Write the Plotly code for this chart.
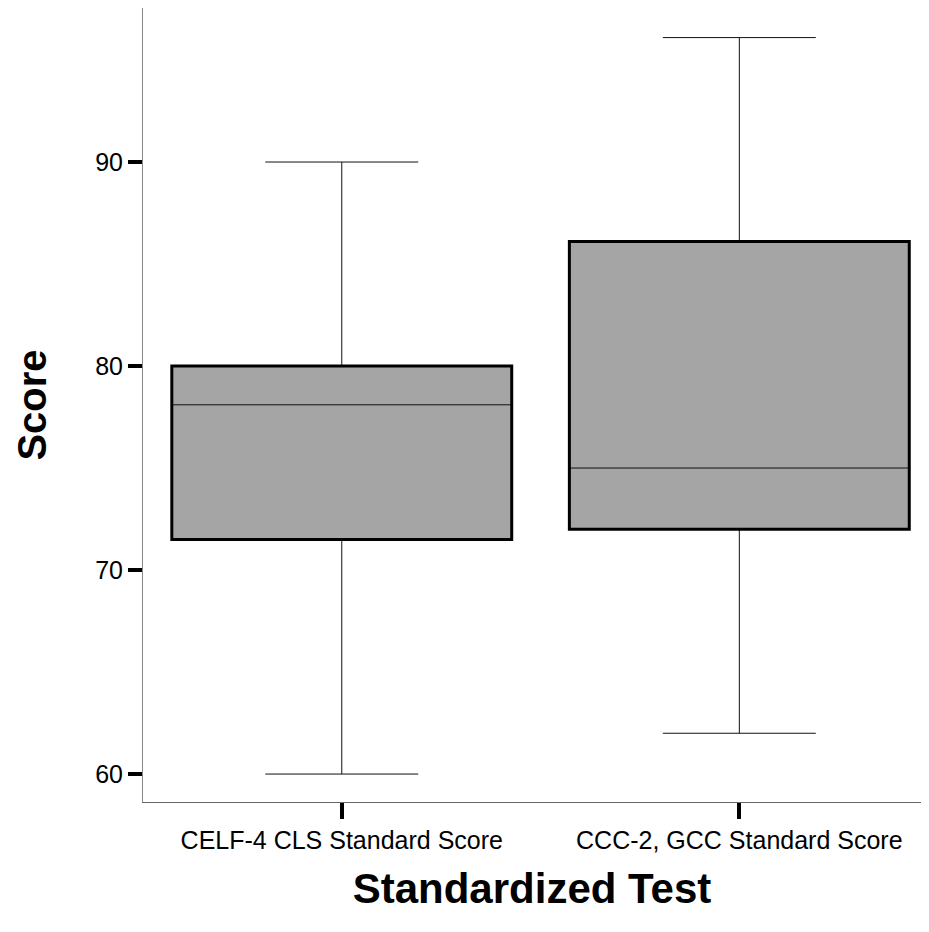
import plotly.graph_objects as go

categories = ["CELF-4 CLS Standard Score", "CCC-2, GCC Standard Score"]
lower_whisker = [60.0, 62.0]
q1_values = [71.5, 72.0]
median_values = [78.1, 75.0]
q3_values = [80.0, 86.1]
upper_whisker = [90.0, 96.1]
y_ticks = [60, 70, 80, 90]

BOX_WIDTH = 0.855
FILL = "#a5a5a5"

fig = go.Figure()
fig.add_trace(go.Box(
    x=categories,
    q1=q1_values,
    median=median_values,
    q3=q3_values,
    lowerfence=lower_whisker,
    upperfence=upper_whisker,
    width=BOX_WIDTH,
    whiskerwidth=0.45,
    fillcolor=FILL,
    line=dict(color="#111111", width=1),
    boxpoints=False,
    hoverinfo="skip",
    showlegend=False,
))

# thick outline of each box (derived from the data arrays)
for i in range(len(categories)):
    fig.add_shape(
        type="rect", xref="x", yref="y",
        x0=i - BOX_WIDTH / 2, x1=i + BOX_WIDTH / 2,
        y0=q1_values[i], y1=q3_values[i],
        line=dict(color="black", width=3), fillcolor="rgba(0,0,0,0)",
    )

# the page body has an 8px default margin; size the figure to fit without scrollbars
fig.update_layout(
    width=913, height=916,
    margin=dict(l=135, r=0, t=0, b=122),
    paper_bgcolor="white", plot_bgcolor="white",
    font=dict(family="Liberation Sans, Arial, sans-serif", color="black"),
)
fig.update_xaxes(
    type="category",
    range=[-0.5, 1.457],
    showgrid=False, zeroline=False,
    showline=True, linecolor="#666666", linewidth=1, mirror=True,
    ticks="outside", ticklen=16, tickwidth=4, tickcolor="black",
    tickfont=dict(size=25),
    title=dict(text="<b>Standardized Test</b>", font=dict(size=42), standoff=20),
)
fig.update_yaxes(
    range=[58.63, 97.55],
    tickvals=y_ticks,
    showgrid=False, zeroline=False,
    showline=True, linecolor="#888888", linewidth=1, mirror=False,
    ticks="outside", ticklen=14, tickwidth=4, tickcolor="black",
    tickfont=dict(size=25),
    title=dict(text="<b>Score</b>", font=dict(size=40), standoff=36),
)

fig.write_html("out.html")
